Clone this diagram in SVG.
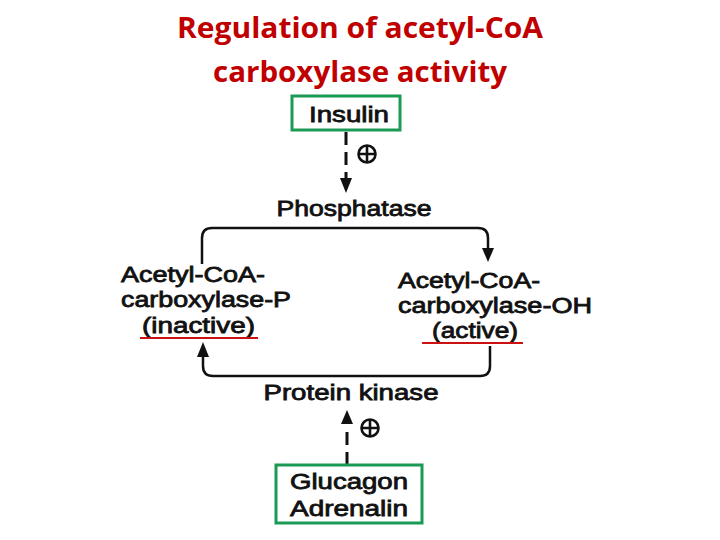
<svg xmlns="http://www.w3.org/2000/svg" width="720" height="540" viewBox="0 0 720 540">
<style>
.title{font-family:"Open Sans","Liberation Sans",sans-serif;font-weight:bold;font-size:29px;fill:#C00000;text-anchor:middle}
.t{font-family:"Liberation Sans",Arial,sans-serif;font-size:22px;fill:#111;stroke:#111;stroke-width:0.8}
.box{fill:none;stroke:#1a9a55;stroke-width:3}
.line{fill:none;stroke:#111;stroke-width:2.5}
.dash{fill:none;stroke:#111;stroke-width:3;stroke-dasharray:13,7}
.ul{stroke:#cc1111;stroke-width:2}
.plus{fill:none;stroke:#111;stroke-width:2.6}
</style>
<rect width="720" height="540" fill="#fff"/>
<text class="title" x="360" y="38" textLength="366" lengthAdjust="spacingAndGlyphs">Regulation of acetyl-CoA</text>
<text class="title" x="360" y="82" textLength="294" lengthAdjust="spacingAndGlyphs">carboxylase activity</text>

<g id="connectors">
<path class="dash" d="M346,132 V180" />
<path d="M340,178 L352,178 L346,193 z" fill="#111"/>
<path class="line" d="M202,264 V238 Q202,228 212,228 H478 Q488,228 488,238 V250" />
<path d="M482,248 L494,248 L488,262 z" fill="#111"/>
<path class="line" d="M490,346 V366 Q490,376 480,376 H213 Q203,376 203,366 V356" />
<path d="M197,357 L209,357 L203,342 z" fill="#111"/>
<path class="dash" d="M347,465 V425" />
<path d="M341,424 L353,424 L347,410 z" fill="#111"/>
</g>

<g id="insulin">
<rect class="box" x="292" y="96" width="108" height="34"/>
<text class="t" x="349" y="122" text-anchor="middle" textLength="80" lengthAdjust="spacingAndGlyphs">Insulin</text>
<g class="plus"><circle cx="367" cy="154" r="8.5"/><path d="M359,154 H375 M367,146 V162"/></g>
</g>

<g id="phosphatase">
<text class="t" x="354" y="216" text-anchor="middle" textLength="155" lengthAdjust="spacingAndGlyphs">Phosphatase</text>
</g>

<g id="acc-p">
<text class="t" x="121" y="282" textLength="144" lengthAdjust="spacingAndGlyphs">Acetyl-CoA-</text>
<text class="t" x="121" y="307" textLength="170" lengthAdjust="spacingAndGlyphs">carboxylase-P</text>
<text class="t" x="142" y="333" textLength="113" lengthAdjust="spacingAndGlyphs">(inactive)</text>
<line class="ul" x1="140" y1="338" x2="258" y2="338"/>
</g>

<g id="acc-oh">
<text class="t" x="398" y="288" textLength="142" lengthAdjust="spacingAndGlyphs">Acetyl-CoA-</text>
<text class="t" x="398" y="313" textLength="194" lengthAdjust="spacingAndGlyphs">carboxylase-OH</text>
<text class="t" x="432" y="338" textLength="86" lengthAdjust="spacingAndGlyphs">(active)</text>
<line class="ul" x1="422" y1="343" x2="523" y2="343"/>
</g>

<g id="kinase">
<text class="t" x="351" y="400" text-anchor="middle" textLength="175" lengthAdjust="spacingAndGlyphs">Protein kinase</text>
</g>

<g id="glucagon">
<rect class="box" x="276" y="465" width="146" height="58"/>
<text class="t" x="349" y="489" text-anchor="middle" textLength="118" lengthAdjust="spacingAndGlyphs">Glucagon</text>
<text class="t" x="349" y="516" text-anchor="middle" textLength="118" lengthAdjust="spacingAndGlyphs">Adrenalin</text>
<g class="plus"><circle cx="370" cy="428" r="8.5"/><path d="M362,428 H378 M370,420 V436"/></g>
</g>
</svg>
